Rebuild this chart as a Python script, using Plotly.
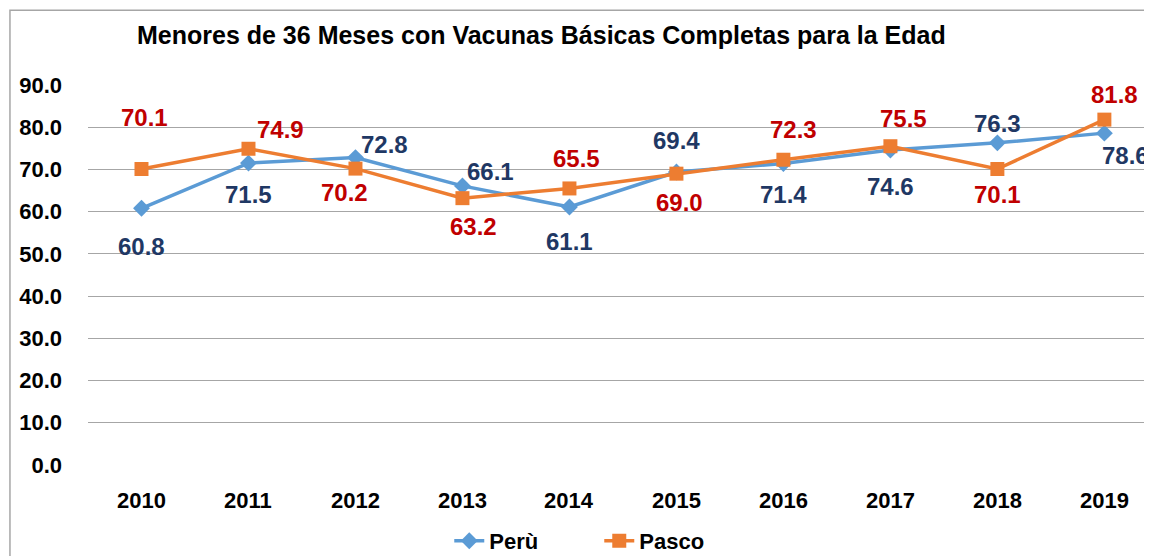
import plotly.graph_objects as go

years = ["2010", "2011", "2012", "2013", "2014", "2015", "2016", "2017", "2018", "2019"]
peru = [60.8, 71.5, 72.8, 66.1, 61.1, 69.4, 71.4, 74.6, 76.3, 78.6]
pasco = [70.1, 74.9, 70.2, 63.2, 65.5, 69.0, 72.3, 75.5, 70.1, 81.8]
ytick_vals = [0, 10, 20, 30, 40, 50, 60, 70, 80, 90]

# label offsets (pixels) for data labels
peru_off = [(0, -38), (0, -31), (29, 13), (28, 14), (0, -34), (0, 31), (0, -31), (0, -36), (0, 19), (21, -22)]
pasco_off = [(3, 52), (32, 19), (-11, -24), (11, -28), (7, 30), (3, -29), (10, 30), (13, 28), (0, -25), (10, 25)]

FONT = "Liberation Sans"
fig = go.Figure()
fig.add_trace(go.Scatter(
    x=list(range(len(years))), y=peru, name="Perù", mode="lines+markers",
    line=dict(color="#5B9BD5", width=3.5),
    marker=dict(symbol="diamond", size=13, color="#5B9BD5"),
    cliponaxis=False,
))
fig.add_trace(go.Scatter(
    x=list(range(len(years))), y=pasco, name="Pasco", mode="lines+markers",
    line=dict(color="#ED7D31", width=3.5),
    marker=dict(symbol="square", size=14, color="#ED7D31"),
    cliponaxis=False,
))

ann = []
for i, v in enumerate(peru):
    dx, dy = peru_off[i]
    ann.append(dict(x=i, y=v, text=f"{v:.1f}", showarrow=False, xshift=dx, yshift=dy,
                    font=dict(family=FONT, size=24, color="#1F3864", weight="bold")))
for i, v in enumerate(pasco):
    dx, dy = pasco_off[i]
    ann.append(dict(x=i, y=v, text=f"{v:.1f}", showarrow=False, xshift=dx, yshift=dy,
                    font=dict(family=FONT, size=24, color="#C00000", weight="bold")))
# x category labels
for i, yr in enumerate(years):
    ann.append(dict(x=i, y=0, text=yr, showarrow=False, yshift=-35,
                    font=dict(family=FONT, size=22, color="black", weight="bold")))
ann.append(dict(x=0.4235, xref="paper", y=1.1316, yref="paper", yanchor="middle",
                text="Menores de 36 Meses con Vacunas Básicas Completas para la Edad",
                showarrow=False,
                font=dict(family=FONT, size=25, color="black", weight="bold")))

fig.update_layout(
    width=1152, height=556,
    margin=dict(l=80, r=0, t=77, b=99),
    paper_bgcolor="white", plot_bgcolor="white",
    showlegend=True,
    legend=dict(orientation="h", x=0.337, y=-0.2, xanchor="left", yanchor="middle",
                entrywidth=105, entrywidthmode="pixels",
                font=dict(family=FONT, size=22, color="black", weight="bold"),
                bgcolor="rgba(0,0,0,0)"),
    xaxis=dict(range=[-0.5, 9.52], showgrid=False, showticklabels=False, zeroline=False,
               showline=False, fixedrange=True),
    yaxis=dict(range=[0, 90], tickvals=ytick_vals, ticktext=[f"{v:.1f}" for v in ytick_vals],
               showgrid=True, gridcolor="#A6A6A6", gridwidth=1.3, zeroline=False,
               showline=False, ticks="", ticklabelstandoff=25,
               tickfont=dict(family=FONT, size=22, color="black", weight="bold")),
    annotations=ann,
    shapes=[dict(type="rect", xref="paper", yref="paper", x0=-0.0728, x1=1.05, y0=-0.5, y1=1.197,
                 line=dict(color="#A6A6A6", width=1.5), fillcolor="rgba(0,0,0,0)", layer="below")],
)
fig.write_html("out.html")
